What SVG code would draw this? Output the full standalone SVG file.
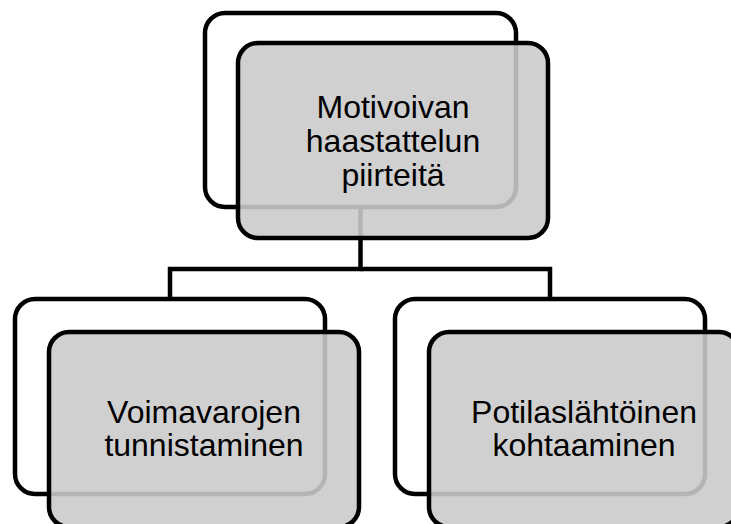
<svg xmlns="http://www.w3.org/2000/svg" width="731" height="524" viewBox="0 0 731 524">
<style>
.back{fill:#ffffff;stroke:#000;stroke-width:4.5}
.front{fill:#cacaca;fill-opacity:0.89;stroke:#000;stroke-width:4.5}
.conn{fill:none;stroke:#000;stroke-width:4.5}
.lbl{font-family:"Liberation Sans",Arial,sans-serif;font-size:32px;fill:#000;text-anchor:middle}
</style>
<rect width="731" height="524" fill="#fff"/>
<g id="backs">
<rect id="top-back" class="back" x="205" y="13" width="311" height="194" rx="20"/>
<rect id="left-back" class="back" x="15" y="299" width="310" height="195" rx="20"/>
<rect id="right-back" class="back" x="395" y="299" width="310" height="195" rx="20"/>
</g>
<g id="connectors">
<path class="conn" d="M360.5,207 V269 H170 V299"/>
<path class="conn" d="M360.5,269 H550 V299"/>
</g>
<g id="node-top">
<rect class="front" x="238" y="43" width="310" height="195" rx="20"/>
<text class="lbl" x="393" y="118">Motivoivan</text>
<text class="lbl" x="393" y="152">haastattelun</text>
<text class="lbl" x="393" y="186">piirteitä</text>
</g>
<g id="node-left">
<rect class="front" x="49" y="332" width="310" height="195" rx="20"/>
<text class="lbl" x="204" y="423">Voimavarojen</text>
<text class="lbl" x="204" y="456">tunnistaminen</text>
</g>
<g id="node-right">
<rect class="front" x="429" y="332" width="310" height="195" rx="20"/>
<text class="lbl" x="584" y="423">Potilaslähtöinen</text>
<text class="lbl" x="584" y="456">kohtaaminen</text>
</g>
</svg>
